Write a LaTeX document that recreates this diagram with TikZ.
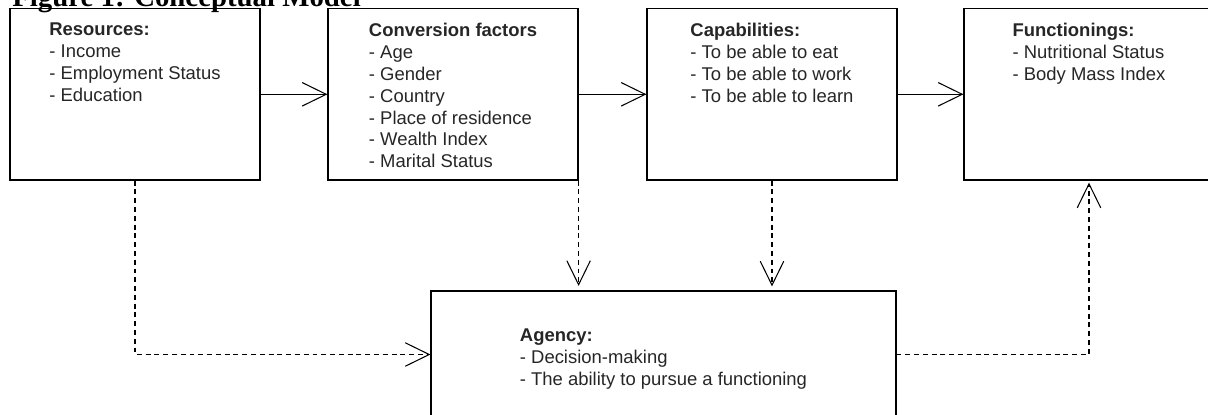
\documentclass[tikz,border=0pt]{standalone}
\usepackage{fontspec}
\setmainfont{Liberation Sans}
\newfontfamily\titlefont{Liberation Serif}
\usetikzlibrary{arrows.meta,positioning}

\begin{document}
\begin{tikzpicture}[
    x=0.02cm, y=-0.02cm,
    every node/.style={font=\fontsize{10.5}{12.5}\selectfont},
    box/.style={rectangle, draw=black, line width=0.7pt,
        minimum width=5cm, minimum height=3.43cm, inner sep=0pt},
    boxtext/.style={align=left, inner sep=0pt, text=black!85},
    flow/.style={-{Straight Barb[length=0.48cm, width=0.47cm]}, line width=0.6pt},
    influence/.style={flow, dash pattern=on 2.8pt off 2.2pt},
]
\useasboundingbox (0,0) rectangle (1208,414);

% Heading
\node[anchor=base west, inner sep=0pt,
    font=\titlefont\bfseries\fontsize{16.4}{18}\selectfont] (title) at (12,6)
    {Figure 1: Conceptual Model};

% Top row of boxes
\node[box] (res) at (135,94.3) {};
\node[box] (conv) at (453,94.3) {};
\node[box] (cap) at (772,94.3) {};
\node[box] (fun) at (1089,94.3) {};

% Agency box below (runs off the bottom edge)
\node[box, minimum width=9.3cm, minimum height=2.54cm] (agency) at (663.5,354.5) {};

% Box contents
\node[boxtext, below=0.29cm of res.north] (restext)
    {\textbf{Resources:}\\- Income\\- Employment Status\\- Education};
\node[boxtext, below=0.29cm of conv.north] (convtext)
    {\textbf{Conversion factors}\\- Age\\- Gender\\- Country\\- Place of residence\\- Wealth Index\\- Marital Status};
\node[boxtext, below=0.29cm of cap.north] (captext)
    {\textbf{Capabilities:}\\- To be able to eat\\- To be able to work\\- To be able to learn};
\node[boxtext, below=0.29cm of fun.north] (funtext)
    {\textbf{Functionings:}\\- Nutritional Status\\- Body Mass Index};
\node[boxtext, below=0.76cm of agency.north] (agencytext)
    {\textbf{Agency:}\\- Decision-making\\- The ability to pursue a functioning};

% Main chain
\draw[flow] (res) -- (conv);
\draw[flow] (conv) -- (cap);
\draw[flow] (cap) -- (fun);

% Paths through agency
\draw[influence] (res.south) |- (agency.west);
\draw[influence, shorten >=0.09cm] (conv.south east) -- (conv.south east |- agency.north);
\draw[influence, shorten >=0.08cm] (cap.south) -- (cap.south |- agency.north);
\draw[influence, shorten >=0.04cm] (agency.east) -| (fun.south);
\end{tikzpicture}
\end{document}
